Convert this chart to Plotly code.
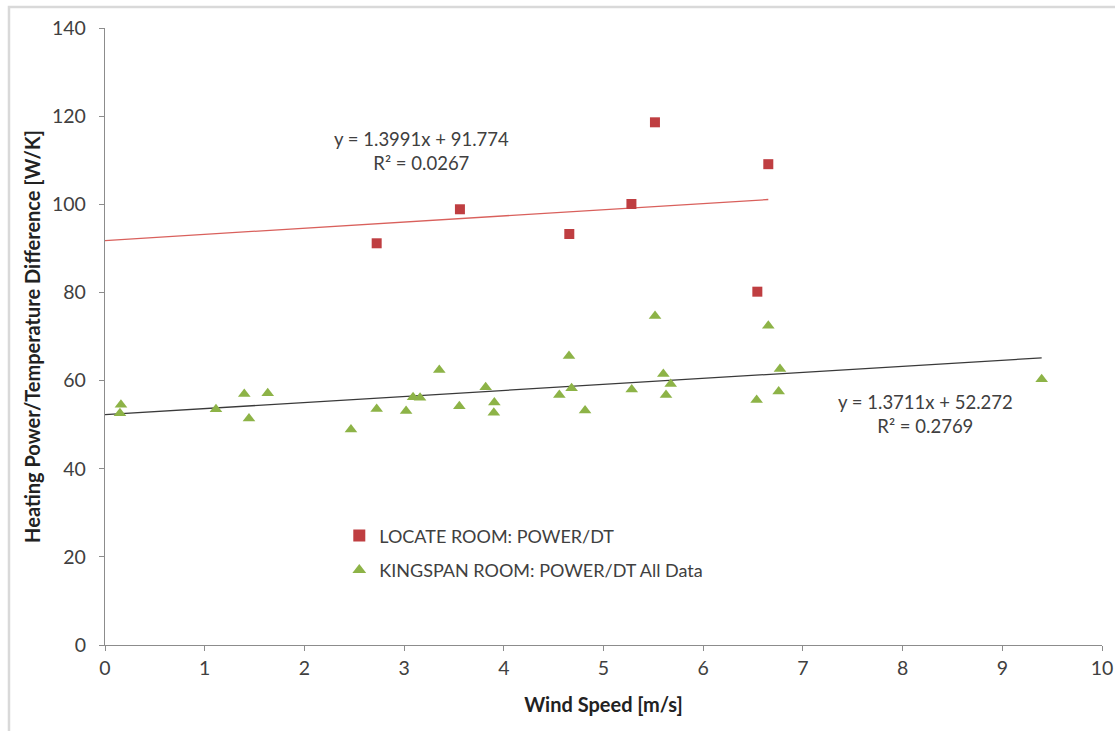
import plotly.graph_objects as go

# ---- data ----
locate_x = [2.725, 3.56, 4.657, 5.28, 5.516, 6.653, 6.543]
locate_y = [91.15, 98.87, 93.26, 100.07, 118.6, 109.1, 80.17]

kingspan_x = [0.16, 0.15, 1.113, 1.397, 1.444, 1.632, 2.467, 2.725, 3.02, 3.09,
              3.16, 3.353, 3.554, 3.818, 3.905, 3.90, 4.654, 4.557, 4.68, 4.815,
              5.283, 5.517, 5.60, 5.674, 5.627, 6.536, 6.653, 6.77, 6.757, 9.395]
kingspan_y = [54.5, 52.6, 53.5, 56.95, 51.4, 57.1, 48.9, 53.55, 53.1, 56.2,
              56.1, 62.4, 54.2, 58.5, 55.0, 52.7, 65.6, 56.7, 58.25, 53.2,
              58.0, 74.65, 61.5, 59.2, 56.7, 55.6, 72.45, 62.6, 57.5, 60.3]

locate_slope, locate_intercept = 1.3991, 91.774
kingspan_slope, kingspan_intercept = 1.3711, 52.272

locate_label = "LOCATE ROOM: POWER/DT"
kingspan_label = "KINGSPAN ROOM: POWER/DT All Data"
locate_eq = "y = 1.3991x + 91.774<br>R² = 0.0267"
kingspan_eq = "y = 1.3711x + 52.272<br>R² = 0.2769"

x_ticks = list(range(0, 11))
y_ticks = list(range(0, 141, 20))

FONT = "Lato"
TXT = "#404040"

fig = go.Figure()

# trend lines
lx = [0, max(locate_x)]
fig.add_trace(go.Scatter(x=lx, y=[locate_intercept + locate_slope * v for v in lx],
                         mode="lines", line=dict(color="#D9605C", width=1.3),
                         showlegend=False, hoverinfo="skip"))
kx = [0, max(kingspan_x)]
fig.add_trace(go.Scatter(x=kx, y=[kingspan_intercept + kingspan_slope * v for v in kx],
                         mode="lines", line=dict(color="#3a3a3a", width=1.3),
                         showlegend=False, hoverinfo="skip"))

fig.add_trace(go.Scatter(x=locate_x, y=locate_y, mode="markers", name=locate_label,
                         legendgroup="a",
                         marker=dict(symbol="square", size=10, color="#BF3E41")))
fig.add_trace(go.Scatter(x=kingspan_x, y=kingspan_y, mode="markers", name=kingspan_label,
                         legendgroup="b",
                         marker=dict(symbol="triangle-up", size=11, color="#8DB347")))

fig.add_annotation(x=3.17, y=112.2, text=locate_eq, showarrow=False,
                   align="center", font=dict(family=FONT, size=18.5, color=TXT))
fig.add_annotation(x=8.23, y=52.4, text=kingspan_eq, showarrow=False,
                   align="center", font=dict(family=FONT, size=18.5, color=TXT))

# outer chart border
fig.add_shape(type="rect", xref="paper", yref="paper",
              x0=-0.0963, x1=1.05, y0=-0.25, y1=1.034,
              line=dict(color="#d9d9d9", width=2.5), layer="below")

fig.update_layout(
    width=1115, height=731,
    margin=dict(l=105, r=13, t=28, b=86),
    paper_bgcolor="white", plot_bgcolor="white",
    font=dict(family=FONT, color=TXT, size=18),
    legend=dict(x=0.235, y=0.207, xanchor="left", yanchor="top",
                bgcolor="rgba(0,0,0,0)", font=dict(family=FONT, size=18, color=TXT),
                itemsizing="constant", tracegroupgap=8),
    xaxis=dict(range=[0, 10], tickvals=x_ticks, showgrid=False, zeroline=False,
               showline=True, linecolor="#8c8c8c", linewidth=1.3,
               ticks="outside", ticklen=5, tickcolor="#8c8c8c",
               ticklabeloverflow="allow", automargin=False,
               tickfont=dict(family=FONT, size=19.5, color=TXT),
               title=dict(text="<b>Wind Speed [m/s]</b>", standoff=20,
                          font=dict(family=FONT, size=20, color="#222222"))),
    yaxis=dict(range=[0, 140], tickvals=y_ticks, showgrid=False, zeroline=False,
               showline=True, linecolor="#8c8c8c", linewidth=1.3,
               ticks="outside", ticklen=5, tickcolor="#8c8c8c",
               ticklabelstandoff=9, automargin=False,
               tickfont=dict(family=FONT, size=19.5, color=TXT),
               title=dict(text="<b>Heating Power/Temperature Difference [W/K]</b>", standoff=6,
                          font=dict(family=FONT, size=20, color="#222222"))),
)

fig.write_html("out.html", config={"displayModeBar": False},
               post_script="document.body.style.margin='0';document.body.style.overflow='hidden';")
